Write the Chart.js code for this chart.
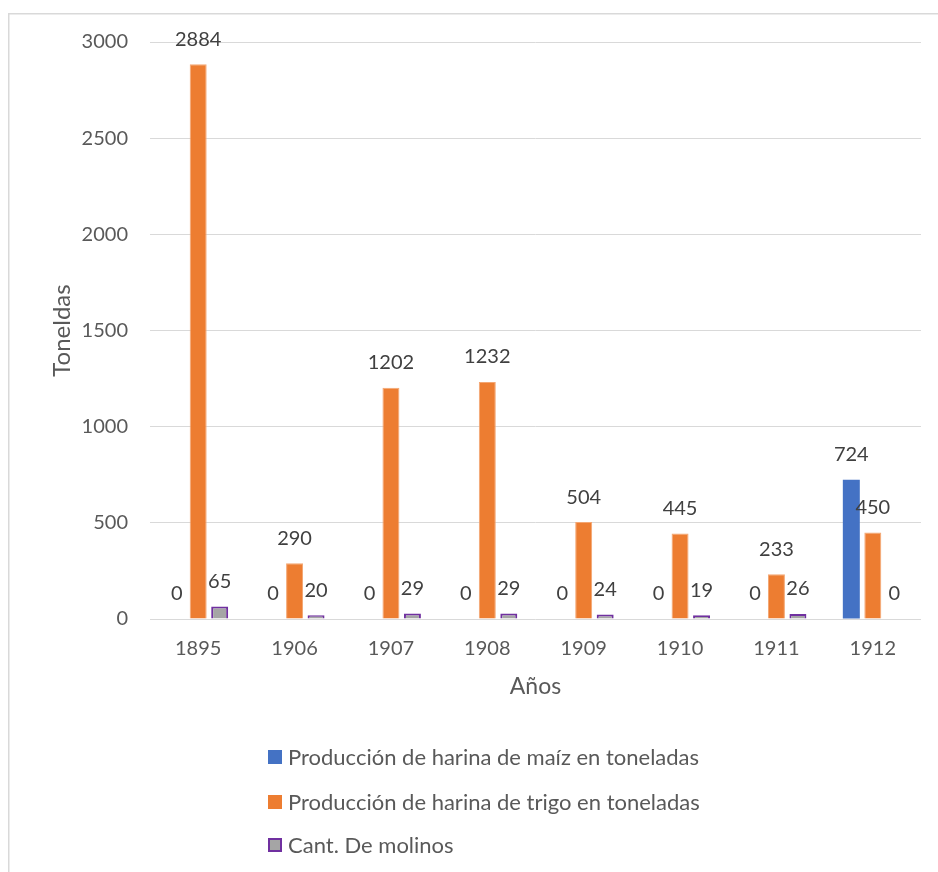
<!DOCTYPE html>
<html>
<head>
<meta charset="utf-8">
<script src="https://cdn.jsdelivr.net/npm/chart.js@4/dist/chart.umd.min.js"></script>
<style>
  html, body { margin: 0; padding: 0; background: #ffffff; }
  #wrap { width: 938px; height: 872px; position: relative; }
</style>
</head>
<body>
<div id="wrap"><canvas id="c" width="938" height="872"></canvas></div>
<script>
const years = ['1895', '1906', '1907', '1908', '1909', '1910', '1911', '1912'];
const maiz = [0, 0, 0, 0, 0, 0, 0, 724];
const trigo = [2884, 290, 1202, 1232, 504, 445, 233, 450];
const molinos = [65, 20, 29, 29, 24, 19, 26, 0];
const seriesNames = [
  'Producción de harina de maíz en toneladas',
  'Producción de harina de trigo en toneladas',
  'Cant. De molinos'
];
const yTitle = 'Toneldas';
const xTitle = 'Años';

const FONT = 'Lato';
const TEXT = '#595959';
const LABEL = '#404040';

const framePlugin = {
  id: 'frame',
  beforeDraw(chart) {
    const ctx = chart.ctx;
    ctx.save();
    ctx.fillStyle = '#ffffff';
    ctx.fillRect(0, 0, chart.width, chart.height);
    ctx.strokeStyle = '#d9d9d9';
    ctx.lineWidth = 1.5;
    ctx.strokeRect(8.75, 13.75, chart.width + 20, chart.height + 20);
    ctx.restore();
  }
};

const dataLabelPlugin = {
  id: 'dataLabels',
  afterDatasetsDraw(chart) {
    const ctx = chart.ctx;
    ctx.save();
    ctx.font = '20px ' + FONT;
    ctx.fillStyle = LABEL;
    ctx.textAlign = 'center';
    ctx.textBaseline = 'middle';
    chart.data.datasets.forEach((ds, di) => {
      const meta = chart.getDatasetMeta(di);
      meta.data.forEach((bar, i) => {
        ctx.fillText(String(ds.data[i]), bar.x, bar.y - 25);
      });
    });
    ctx.restore();
  }
};

const legendPlugin = {
  id: 'customLegend',
  afterDraw(chart) {
    const ctx = chart.ctx;
    const rows = [757, 802, 845];
    ctx.save();
    ctx.font = '22px ' + FONT;
    ctx.textAlign = 'left';
    ctx.textBaseline = 'middle';
    chart.data.datasets.forEach((ds, di) => {
      const y = rows[di];
      const bx = 268, size = 14;
      ctx.fillStyle = ds.backgroundColor;
      ctx.fillRect(bx, y - size / 2, size, size);
      if (ds.legendBorder) {
        ctx.strokeStyle = ds.legendBorder;
        ctx.lineWidth = 2;
        ctx.strokeRect(bx + 1, y - size / 2 + 1, size - 2, size - 2);
      }
      ctx.fillStyle = TEXT;
      ctx.fillText(ds.label, 288, y + 1);
    });
    ctx.restore();
  }
};

new Chart(document.getElementById('c'), {
  type: 'bar',
  data: {
    labels: years,
    datasets: [
      { label: seriesNames[0], data: maiz, backgroundColor: '#4472C4', borderWidth: 0 },
      { label: seriesNames[1], data: trigo, backgroundColor: '#ED7D31', borderColor: '#F4A672', borderWidth: 1 },
      { label: seriesNames[2], data: molinos, backgroundColor: '#A5A5A5', borderColor: '#7030A0', legendBorder: '#7030A0',
        borderWidth: (c) => (c.raw === 0 ? 0 : 2) }
    ]
  },
  options: {
    responsive: false,
    animation: false,
    devicePixelRatio: 1,
    categoryPercentage: 0.669,
    barPercentage: 0.79,
    layout: { padding: { left: 10, right: 17, top: 42, bottom: 163 } },
    plugins: {
      legend: { display: false },
      tooltip: { enabled: false }
    },
    scales: {
      x: {
        grid: { display: false, drawTicks: false },
        border: { display: false },
        ticks: { color: TEXT, font: { family: FONT, size: 20 }, padding: 18 },
        title: { display: true, text: xTitle, color: TEXT, font: { family: FONT, size: 23 }, padding: { top: 0, bottom: 9 } },
        afterFit: (s) => { s.height = 90; }
      },
      y: {
        min: 0,
        max: 3000,
        grid: { color: '#d9d9d9', lineWidth: 1, drawTicks: false },
        border: { display: false },
        ticks: { stepSize: 500, color: TEXT, font: { family: FONT, size: 20 }, padding: 22,
          callback: (v) => String(v) },
        title: { display: true, text: yTitle, color: TEXT, font: { family: FONT, size: 24 }, padding: { top: 38, bottom: 0 } },
        afterFit: (s) => { s.width = 140; }
      }
    }
  },
  plugins: [framePlugin, dataLabelPlugin, legendPlugin]
});
</script>
</body>
</html>
